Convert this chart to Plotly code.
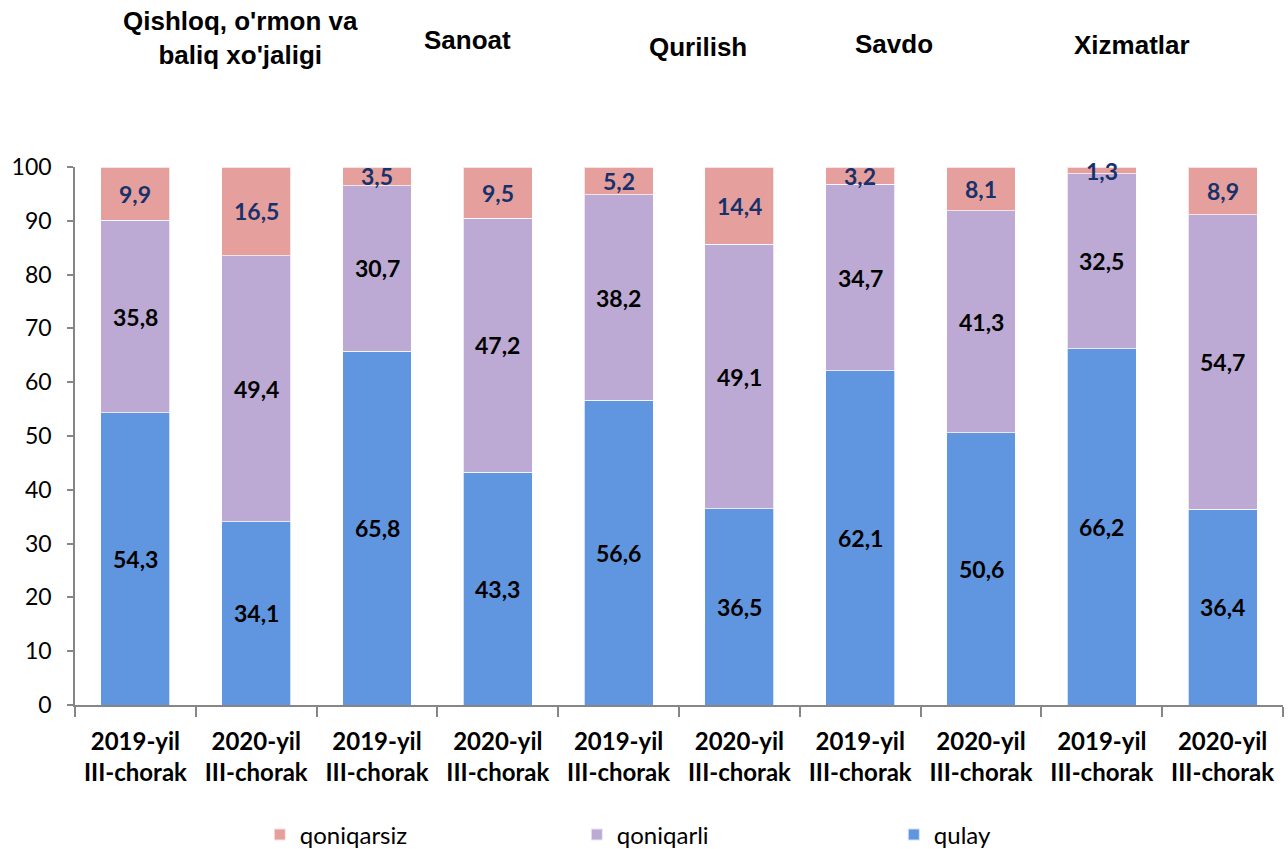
import plotly.graph_objects as go

groups = ["Qishloq, o'rmon va<br>baliq xo'jaligi", "Sanoat", "Qurilish", "Savdo", "Xizmatlar"]
periods = ["2019-yil<br>III-chorak", "2020-yil<br>III-chorak"] * 5
qulay = [54.3, 34.1, 65.8, 43.3, 56.6, 36.5, 62.1, 50.6, 66.2, 36.4]
qoniqarli = [35.8, 49.4, 30.7, 47.2, 38.2, 49.1, 34.7, 41.3, 32.5, 54.7]
qoniqarsiz = [9.9, 16.5, 3.5, 9.5, 5.2, 14.4, 3.2, 8.1, 1.3, 8.9]
y_ticks = list(range(0, 101, 10))

xs = list(range(len(periods)))
col_qulay = "#6096DF"
col_qoniqarli = "#BCAAD4"
col_qoniqarsiz = "#E5A09E"
label_font = "Lato"

fig = go.Figure()
line = dict(color="rgba(255,255,255,0.7)", width=1)
fig.add_trace(go.Bar(x=xs, y=qulay, name="qulay", marker=dict(color=col_qulay, line=line), width=0.57))
fig.add_trace(go.Bar(x=xs, y=qoniqarli, name="qoniqarli", marker=dict(color=col_qoniqarli, line=line), width=0.57))
fig.add_trace(go.Bar(x=xs, y=qoniqarsiz, name="qoniqarsiz", marker=dict(color=col_qoniqarsiz, line=line), width=0.57))

def fmt(v):
    return f"{v:.1f}".replace(".", ",")

ann = []
for i in xs:
    a, b, c = qulay[i], qoniqarli[i], qoniqarsiz[i]
    ann.append(dict(x=i, y=a / 2, text=fmt(a), showarrow=False,
                    font=dict(family=label_font, size=23, color="black", weight="bold")))
    ann.append(dict(x=i, y=a + b / 2, text=fmt(b), showarrow=False,
                    font=dict(family=label_font, size=23, color="black", weight="bold")))
    ann.append(dict(x=i, y=a + b + c / 2, text=fmt(c), showarrow=False,
                    font=dict(family=label_font, size=23, color="#17316B", weight="bold")))

title_pos = [(0.1366, 1.24), (0.325, 1.236), (0.516, 1.223), (0.678, 1.229), (0.875, 1.227)]
for g, (px, py) in zip(groups, title_pos):
    ann.append(dict(x=px, y=py, xref="paper", yref="paper", text=g, showarrow=False,
                    xanchor="center", yanchor="middle",
                    font=dict(family="Liberation Sans", size=26, color="black", weight="bold")))

fig.update_layout(
    barmode="stack",
    width=1288, height=849,
    margin=dict(l=75, r=5, t=167, b=144, autoexpand=False),
    plot_bgcolor="white", paper_bgcolor="white",
    showlegend=True,
    legend=dict(orientation="h", x=0.153, y=0.0165, xanchor="left", yanchor="middle",
                yref="container",
                traceorder="reversed", entrywidth=272, entrywidthmode="pixels",
                font=dict(family=label_font, size=24, color="black"),
                itemsizing="constant"),
    annotations=ann,
)
fig.update_xaxes(
    range=[-0.5, 9.5], tickvals=xs, ticktext=periods, ticks="",
    tickfont=dict(family=label_font, size=24, color="black", weight="bold"),
    ticklabelstandoff=14,
    showline=True, linecolor="#868686", linewidth=1.5, showgrid=False, zeroline=False,
    minor=dict(tickvals=[i - 0.5 for i in range(11)], ticks="outside", ticklen=10,
               tickcolor="#868686", tickwidth=1.5),
)
fig.update_yaxes(
    range=[0, 100], tickvals=y_ticks, ticks="outside", ticklen=6, tickcolor="#868686",
    tickwidth=1.5, tickfont=dict(family=label_font, size=23, color="black"),
    ticklabelstandoff=11,
    showline=True, linecolor="#868686", linewidth=1.5, showgrid=False, zeroline=False,
)
fig.write_html("out.html", config={"displayModeBar": False},
               post_script="document.body.style.margin='0';")
